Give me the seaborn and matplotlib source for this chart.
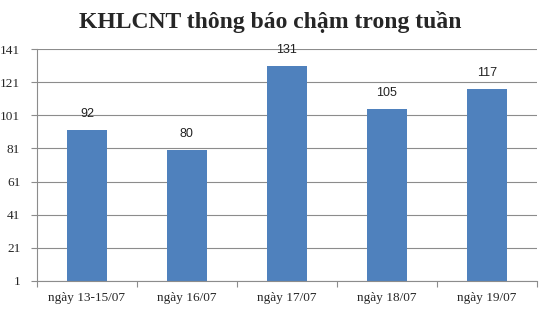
import matplotlib
matplotlib.use("Agg")
import matplotlib.pyplot as plt
import seaborn as sns
import pandas as pd

categories = ["ngày 13-15/07", "ngày 16/07", "ngày 17/07", "ngày 18/07", "ngày 19/07"]
values = [92, 80, 131, 105, 117]
yticks = [1, 21, 41, 61, 81, 101, 121, 141]

sns.set_style("white")
plt.rcParams['font.family'] = ['Liberation Serif', 'DejaVu Serif']

df = pd.DataFrame({"cat": categories, "val": values})
fig = plt.figure(figsize=(5.4, 3.11), dpi=100)
ax = fig.add_axes([0.0685, 0.0965, 0.9255, 0.7459])
ax.set_axisbelow(True)
for y in yticks:
    ax.axhline(y, color="#8c8c8c", lw=0.8, zorder=0)
sns.barplot(data=df, x="cat", y="val", color="#4F81BD", width=0.4, saturation=1,
            linewidth=0, ax=ax, zorder=2)
ax.set_ylim(1, 141)
ax.set_xlim(-0.5, 4.5)
ax.set_yticks(yticks)
ax.set_yticklabels([str(t) for t in yticks], fontsize=9.5)
ax.set_xticks(range(len(categories)))
ax.set_xticklabels(categories, fontsize=9.5)
ax.tick_params(axis='x', length=0, pad=8)
ax.tick_params(axis='y', length=4, width=0.8, color="#8c8c8c", direction='out', left=True, pad=8)
ax.set_xticks([i - 0.5 for i in range(len(categories) + 1)], minor=True)
ax.tick_params(axis='x', which='minor', length=4, width=0.8, color="#8c8c8c", direction='out', bottom=True)
for s in ["top", "right"]:
    ax.spines[s].set_visible(False)
for s in ["left", "bottom"]:
    ax.spines[s].set_color("#8c8c8c")
    ax.spines[s].set_linewidth(0.8)
ax.set_xlabel("")
ax.set_ylabel("")
for i, v in enumerate(values):
    ax.text(i, v + 6, str(v), ha="center", va="bottom", fontsize=9, family="Liberation Sans", color="#222222")
fig.text(0.5, 0.93, "KHLCNT thông báo chậm trong tuần", ha="center", va="center",
         fontsize=17, fontweight="bold")
fig.savefig("out.png", dpi=100)
